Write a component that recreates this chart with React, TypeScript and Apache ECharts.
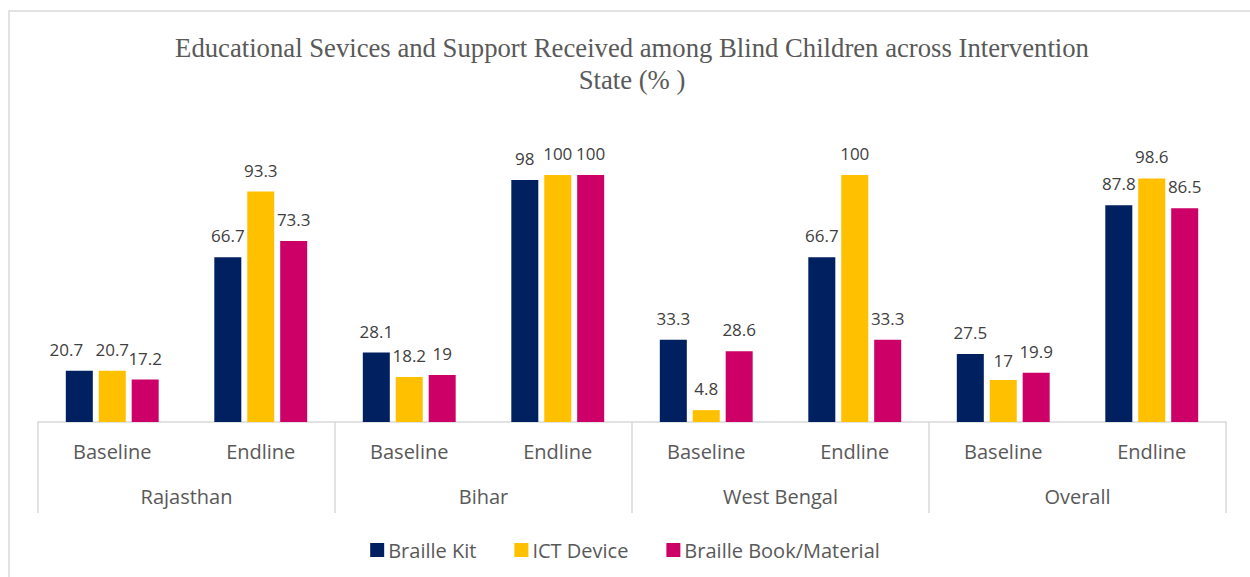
import React, { useEffect, useRef } from "react";
import * as echarts from "echarts";

const periods = ["Baseline", "Endline", "Baseline", "Endline", "Baseline", "Endline", "Baseline", "Endline"];
const states = ["Rajasthan", "Bihar", "West Bengal", "Overall"];
const brailleKit = [20.7, 66.7, 28.1, 98, 33.3, 66.7, 27.5, 87.8];
const ictDevice = [20.7, 93.3, 18.2, 100, 4.8, 100, 17, 98.6];
const brailleBook = [17.2, 73.3, 19, 100, 28.6, 33.3, 19.9, 86.5];
const seriesNames = ["Braille Kit", "ICT Device", "Braille Book/Material"];
const colors = ["#002060", "#FFC000", "#CC0066"];
const titleLines = [
  "Educational Sevices and Support Received among Blind Children across Intervention",
  "State (% )",
];
// label nudges (series index, category index) -> [dx, dy], to avoid overlap like the original
const labelNudges: Record<string, [number, number]> = {
  "0-0": [-13, 0],
  "1-6": [0, 2],
};

export default function App() {
  const ref = useRef<HTMLDivElement>(null);
  useEffect(() => {
    if (!ref.current) return;
    const chart = echarts.init(ref.current, null, { renderer: "svg" });
    const font = "'Open Sans', 'Noto Sans', sans-serif";
    const labelStyle = {
      show: true,
      position: "top" as const,
      distance: 13,
      color: "#404040",
      fontSize: 17,
      fontFamily: font,
    };
    const values = [brailleKit, ictDevice, brailleBook];
    const titleFont = "26.7px 'Liberation Serif', 'DejaVu Serif', serif";
    chart.setOption({
      animation: false,
      backgroundColor: "#ffffff",
      color: colors,
      graphic: [
        {
          type: "rect",
          shape: { x: 9, y: 11, width: 1300, height: 700 },
          style: { fill: "none", stroke: "#d9d9d9", lineWidth: 1.5 },
          silent: true,
        },
        {
          type: "text",
          x: 632,
          y: 48,
          style: {
            text: titleLines[0],
            fill: "#595959",
            font: titleFont,
            align: "center",
            verticalAlign: "middle",
          },
        },
        {
          type: "text",
          x: 632,
          y: 80,
          style: {
            text: titleLines[1],
            fill: "#595959",
            font: titleFont,
            align: "center",
            verticalAlign: "middle",
          },
        },
      ],
      legend: {
        data: seriesNames,
        top: 535,
        left: "center",
        icon: "rect",
        itemWidth: 14,
        itemHeight: 14,
        itemGap: 38,
        textStyle: { color: "#595959", fontSize: 20, fontFamily: font, padding: [0, 0, 0, -1] },
      },
      grid: [
        { left: 38, right: 24, top: 175, bottom: 155 },
        { left: 38, right: 24, top: 175, bottom: 155 },
      ],
      xAxis: [
        {
          type: "category",
          gridIndex: 0,
          data: periods,
          axisLine: { show: true, lineStyle: { color: "#d9d9d9", width: 1.5 } },
          axisTick: { show: false },
          axisLabel: { color: "#595959", fontSize: 20, fontFamily: font, margin: 19 },
        },
        {
          type: "category",
          gridIndex: 1,
          position: "bottom",
          data: states,
          axisLine: { show: false },
          axisTick: { show: true, length: 91, lineStyle: { color: "#d9d9d9", width: 1.5 } },
          axisLabel: { color: "#595959", fontSize: 20, fontFamily: font, margin: 64 },
        },
      ],
      yAxis: [
        { type: "value", gridIndex: 0, min: 0, max: 100, show: false, splitLine: { show: false } },
        { type: "value", gridIndex: 1, min: 0, max: 100, show: false, splitLine: { show: false } },
      ],
      series: seriesNames.map((name, i) => ({
        name,
        type: "bar",
        xAxisIndex: 0,
        yAxisIndex: 0,
        data: values[i].map((v, j) => {
          const nudge = labelNudges[`${i}-${j}`];
          return nudge ? { value: v, label: { offset: nudge } } : v;
        }),
        barWidth: 27,
        barGap: "22%",
        itemStyle: { color: colors[i] },
        label: labelStyle,
      })),
    });
    return () => chart.dispose();
  }, []);
  return (
    <div
      ref={ref}
      style={{ position: "fixed", left: 0, top: 0, width: 1250, height: 577 }}
    />
  );
}
